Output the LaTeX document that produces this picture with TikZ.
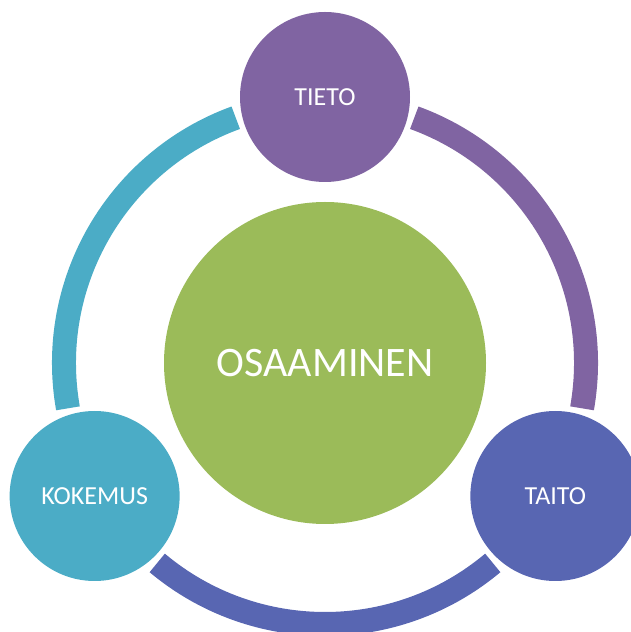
\documentclass[tikz,border=0pt]{standalone}
\usepackage{fontspec}
\setmainfont{Carlito}
\usetikzlibrary{calc}
\definecolor{cpurple}{HTML}{8064A2}
\definecolor{cblue}{HTML}{5866B2}
\definecolor{ccyan}{HTML}{4BACC6}
\definecolor{cgreen}{HTML}{9BBB59}
\tikzset{
  sat/.style={circle, minimum size=170pt, inner sep=0pt, text=white, font=\fontsize{26}{30}\selectfont},
  hub/.style={circle, minimum size=322pt, inner sep=0pt, text=white, font=\fontsize{42}{48}\selectfont, fill=cgreen},
  ring/.style={line width=24pt, line cap=butt}
}
\begin{document}
\begin{tikzpicture}[x=1pt,y=1pt]
\useasboundingbox (0,0) rectangle (630,632);
\coordinate (o) at (325,269);
\draw[ring, cpurple] ($(o)+(70:261)$) arc[start angle=70, end angle=-10, radius=261];
\draw[ring, cblue] ($(o)+(-50:261)$) arc[start angle=-50, end angle=-130, radius=261];
\draw[ring, ccyan] ($(o)+(190:261)$) arc[start angle=190, end angle=110, radius=261];
\node[hub] (c) at (o) {OSAAMINEN};
\node[sat, fill=cpurple] (tieto) at ($(o)+(90:266)$) {TIETO};
\node[sat, fill=cblue] (taito) at ($(o)+(330:266)$) {TAITO};
\node[sat, fill=ccyan] (kokemus) at ($(o)+(210:266)$) {KOKEMUS};
\end{tikzpicture}
\end{document}
